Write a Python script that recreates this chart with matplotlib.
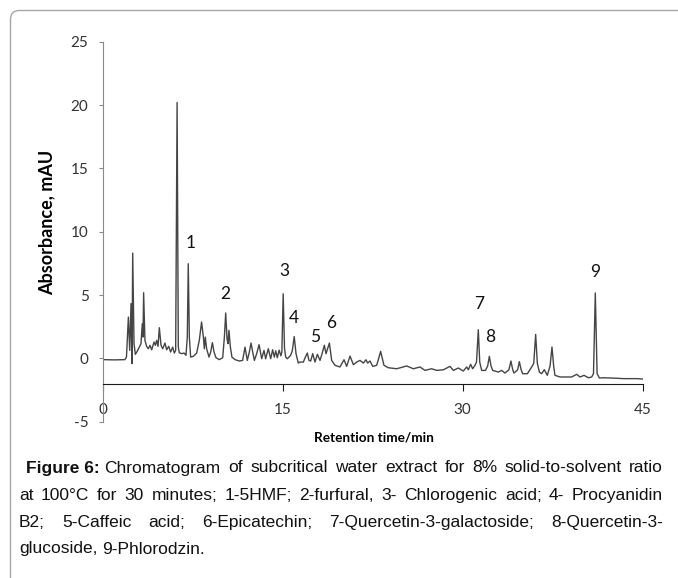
import matplotlib
matplotlib.use("Agg")
import matplotlib.pyplot as plt
from matplotlib.patches import FancyBboxPatch
from matplotlib.transforms import IdentityTransform

# chromatogram trace (retention time in min, absorbance in mAU)
rt = [0.0, 1.0, 1.85, 1.98, 2.14, 2.25, 2.36, 2.44, 2.5, 2.61, 2.72, 2.89, 3.05, 3.19,
      3.3, 3.36, 3.41, 3.52, 3.66, 3.8, 3.94, 4.08, 4.28, 4.39, 4.5, 4.61, 4.72, 4.86,
      5.0, 5.19, 5.33, 5.5, 5.66, 5.83, 5.97, 6.08, 6.2, 6.3, 6.38, 6.58, 6.78, 6.94,
      7.05, 7.13, 7.22, 7.33, 7.55, 7.83, 8.05, 8.24, 8.39, 8.47, 8.55, 8.66, 8.86, 9.0,
      9.14, 9.28, 9.44, 9.72, 10.0, 10.14, 10.25, 10.36, 10.44, 10.52, 10.64, 10.77,
      11.03, 11.39, 11.66, 11.86, 12.05, 12.22, 12.36, 12.5, 12.64, 12.83, 13.03, 13.25,
      13.44, 13.58, 13.8, 14.0, 14.16, 14.3, 14.42, 14.55, 14.7, 14.85, 14.93, 15.04,
      15.15, 15.25, 15.39, 15.66, 15.8, 15.96, 16.11, 16.3, 16.44, 16.72, 16.89, 17.05,
      17.19, 17.33, 17.5, 17.69, 17.89, 18.11, 18.28, 18.47, 18.61, 18.89, 19.08, 19.36,
      19.77, 20.11, 20.33, 20.61, 20.89, 21.17, 21.44, 21.72, 21.94, 22.08, 22.28, 22.5,
      22.83, 23.0, 23.16, 23.3, 23.44, 23.8, 24.5, 25.05, 25.33, 25.89, 26.44, 26.86,
      27.41, 27.83, 28.39, 28.94, 29.22, 29.64, 30.05, 30.33, 30.47, 30.66, 30.83, 31.02,
      31.15, 31.3, 31.42, 31.58, 31.9, 32.08, 32.22, 32.36, 32.5, 32.97, 33.25, 33.52,
      33.85, 34.02, 34.17, 34.27, 34.58, 34.72, 34.87, 35.0, 35.39, 35.75, 35.92, 36.08,
      36.22, 36.39, 36.58, 36.8, 37.05, 37.28, 37.44, 37.58, 37.69, 38.11, 38.66, 39.08,
      39.5, 39.78, 40.11, 40.47, 40.75, 40.9, 41.05, 41.2, 41.39, 41.72, 42.28, 42.83,
      43.39, 43.94, 44.5, 45.0]
absorbance = [-0.1, -0.12, -0.1, 0.1, 3.26, 0.63, 4.32, -0.42, 8.31, 1.16, 0.32, 0.58,
              0.89, 1.16, 2.74, 1.68, 5.18, 1.42, 0.95, 0.76, 1.03, 0.68, 1.29, 1.03,
              1.42, 0.95, 2.42, 1.03, 0.76, 1.21, 0.68, 0.95, 0.5, 0.89, 0.42, 0.63,
              20.2, 0.9, 0.45, 0.37, 0.42, 0.24, 1.68, 7.47, 1.68, 0.1, 0.16, 0.42, 1.42,
              2.87, 1.68, 0.76, 1.68, 0.76, 0.1, 0.5, 1.24, 0.5, 0.05, -0.1, 0.05, 1.68,
              3.58, 1.55, 1.16, 2.21, 0.89, 0.1, -0.1, -0.21, -0.16, 0.89, -0.16, 0.5,
              1.21, 0.5, -0.16, 0.37, 1.08, -0.03, 0.63, -0.03, 0.76, -0.03, 0.68, 0.1,
              0.6, 0.05, 0.65, 0.2, 0.5, 5.1, 0.8, 0.1, -0.03, 0.24, 0.6, 1.72, 0.37,
              -0.37, -0.29, -0.29, 0.1, 0.42, -0.16, -0.21, 0.37, -0.29, 0.32, -0.16,
              0.37, 1.03, 0.37, 1.21, -0.16, -0.55, -0.68, -0.11, -0.63, 0.18, -0.5,
              -0.29, -0.16, -0.37, -0.11, -0.37, -0.21, -0.63, -0.55, 0.0, 0.55, 0.0,
              -0.55, -0.74, -0.82, -0.68, -0.6, -0.82, -0.68, -0.95, -0.82, -0.95, -0.9,
              -0.63, -0.95, -0.76, -1.0, -0.68, -0.9, -0.47, -0.82, -0.55, -0.3, 2.26,
              -0.3, -0.95, -0.95, -0.6, 0.16, -0.6, -0.95, -1.08, -0.95, -1.16, -0.9,
              -0.21, -0.9, -1.16, -0.9, -0.26, -0.9, -1.21, -1.21, -0.68, -0.4, 1.89,
              -0.4, -1.08, -1.21, -0.89, -1.34, -0.6, 0.89, -0.6, -1.34, -1.47, -1.47,
              -1.47, -1.26, -1.47, -1.34, -1.53, -1.47, -1.2, 5.16, -1.2, -1.55, -1.53,
              -1.55, -1.57, -1.6, -1.6, -1.6, -1.63]

# peak numbers and where their labels sit
peak_ids = ["1", "2", "3", "4", "5", "6", "7", "8", "9"]
peak_rt = [7.33, 10.2, 15.1, 15.95, 17.7, 19.0, 31.35, 32.3, 41.0]
peak_lab_y = [9.1, 5.1, 6.9, 3.2, 1.7, 2.8, 4.3, 1.7, 6.8]

x_ticks = [0, 15, 30, 45]
y_ticks = [-5, 0, 5, 10, 15, 20, 25]

caption_lines = [
    "Chromatogram of subcritical water extract for 8% solid-to-solvent ratio",
    "at 100°C for 30 minutes; 1-5HMF; 2-furfural, 3- Chlorogenic acid; 4- Procyanidin",
    "B2; 5-Caffeic acid; 6-Epicatechin; 7-Quercetin-3-galactoside; 8-Quercetin-3-",
    "glucoside, 9-Phlorodzin.",
]

W, H = 678, 578
fig = plt.figure(figsize=(W / 100, H / 100), dpi=100)
fig.patch.set_facecolor("white")

chart_font = ["Lato", "DejaVu Sans"]
cap_font = ["Liberation Sans", "DejaVu Sans"]

# frame with rounded corner, only top and left edges inside the picture
frame = FancyBboxPatch((10.5, -30), 720, H - 10.5 + 30,
                       boxstyle="round,pad=0,rounding_size=9",
                       transform=IdentityTransform(), fill=False,
                       ec="#a6a6a6", lw=1.0)
fig.add_artist(frame)

ax = fig.add_axes([102.7 / W, (H - 421.7) / H, 540 / W, 380 / H])
ax.plot(rt, absorbance, color="#454545", lw=1.0)
ax.set_xlim(0, 45)
ax.set_ylim(-5, 25)

ax.spines["top"].set_visible(False)
ax.spines["right"].set_visible(False)
ax.spines["bottom"].set_position(("data", -2))
ax.spines["bottom"].set_color("#1a1a1a")
ax.spines["left"].set_color("#8a8a8a")

ax.set_xticks(x_ticks)
ax.set_yticks(y_ticks)
ax.set_xticklabels([str(v) for v in x_ticks])
ax.set_yticklabels([str(v) for v in y_ticks])
ax.tick_params(axis="x", direction="out", length=5, width=0.8, color="#1a1a1a",
               pad=9, labelsize=11, labelcolor="#333333")
ax.tick_params(axis="y", direction="out", length=3.2, width=0.8, color="#8a8a8a",
               pad=7, labelsize=11, labelcolor="#333333")
for lab in ax.get_xticklabels() + ax.get_yticklabels():
    lab.set_family(chart_font)

for pid, px, py in zip(peak_ids, peak_rt, peak_lab_y):
    ax.text(px, py, pid, ha="center", va="center", fontsize=12.5,
            family=chart_font, color="#111111")

fig.text(47 / W, 1 - 222 / H, "Absorbance, mAU", rotation=90, ha="center",
         va="center", fontsize=13, fontweight="bold", family=chart_font)
fig.text(374 / W, 1 - 437 / H, "Retention time/min", ha="center", va="center",
         fontsize=9.8, fontweight="bold", family=chart_font)

# caption, justified like the journal text block
renderer = fig.canvas.get_renderer()
cap_size = 12.5
right_px = 663.0
base_y = [468, 495.5, 522.5, 549]


def width_of(txt, weight="normal"):
    t = fig.text(0, 0, txt, fontsize=cap_size, family=cap_font, fontweight=weight)
    w = t.get_window_extent(renderer).width
    t.remove()
    return w


for i, line in enumerate(caption_lines):
    words = line.split()
    left_px = 19.0
    if i == 0:
        bold = "Figure 6:"
        fig.text(26 / W, 1 - base_y[i] / H, bold, fontsize=cap_size, family=cap_font,
                 fontweight="bold", va="center", color="#111111")
        left_px = 26 + width_of(bold, "bold") + width_of(" ")
    widths = [width_of(w) for w in words]
    if i < len(caption_lines) - 1:
        gap = (right_px - left_px - sum(widths)) / (len(words) - 1)
    else:
        gap = width_of("a b") - width_of("ab")
    x = left_px
    for w, wd in zip(words, widths):
        fig.text(x / W, 1 - base_y[i] / H, w, fontsize=cap_size, family=cap_font,
                 va="center", color="#111111")
        x += wd + gap

fig.savefig("out.png", dpi=100)
